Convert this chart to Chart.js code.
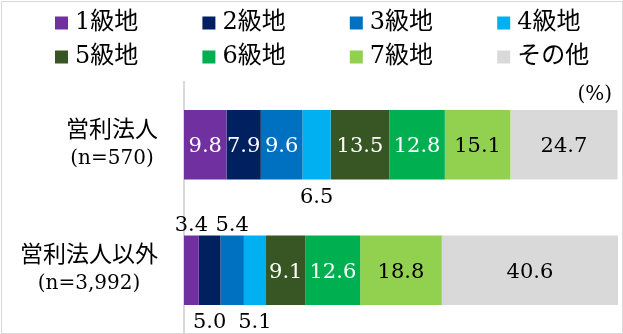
<!DOCTYPE html>
<html lang="ja">
<head>
<meta charset="utf-8">
<title>級地別の構成比</title>
<script src="https://cdn.jsdelivr.net/npm/chart.js"></script>
<style>
  html, body { margin: 0; padding: 0; background: #fff; }
  .chart-box { position: relative; width: 623px; height: 334px; }
  .chart-box .frame { position: absolute; left: 1px; top: 1px; right: 0; bottom: 0; border: 1px solid #d9d9d9; pointer-events: none; }
</style>
</head>
<body>
<div class="chart-box">
  <canvas id="gradeChart"></canvas>
  <div class="frame"></div>
</div>
<script>
// Data (%)
const categories = [['営利法人', '(n=570)'], ['営利法人以外', '(n=3,992)']];
const gradeNames = ['1級地', '2級地', '3級地', '4級地', '5級地', '6級地', '7級地', 'その他'];
const grade1 = [9.8, 3.4];
const grade2 = [7.9, 5.0];
const grade3 = [9.6, 5.4];
const grade4 = [6.5, 5.1];
const grade5 = [13.5, 9.1];
const grade6 = [12.8, 12.6];
const grade7 = [15.1, 18.8];
const others = [24.7, 40.6];

const gradeColors = ['#7030A0', '#002060', '#0070C0', '#00B0F0', '#375623', '#00B050', '#92D050', '#D9D9D9'];
// black text on the light segments
const darkText = [false, false, false, false, false, false, true, true];
// narrow segments get their label outside the bar
const labelSide = [[null, 'above'], [null, 'below'], [null, 'above'], ['below', 'below']];

const FONT = "'DejaVu Serif', 'Noto Sans CJK JP', serif";

const seriesValues = [grade1, grade2, grade3, grade4, grade5, grade6, grade7, others];

const chartText = {
    id: 'chartText',
    afterDatasetsDraw(chart) {
        const ctx = chart.ctx;
        ctx.save();
        ctx.font = '21px ' + FONT;
        ctx.textAlign = 'center';
        ctx.textBaseline = 'middle';
        chart.data.datasets.forEach((ds, i) => {
            const meta = chart.getDatasetMeta(i);
            meta.data.forEach((bar, j) => {
                const side = (labelSide[i] || [])[j];
                const cx = (bar.x + bar.base) / 2;
                let cy = bar.y + 2;
                ctx.fillStyle = darkText[i] ? '#000' : '#fff';
                if (side === 'above') {
                    cy = bar.y - bar.height / 2 - 10;
                    ctx.fillStyle = '#000';
                } else if (side === 'below') {
                    cy = bar.y + bar.height / 2 + 18;
                    ctx.fillStyle = '#000';
                }
                ctx.fillText(ds.data[j].toFixed(1), cx, cy);
            });
        });
        ctx.restore();
    },
    afterDraw(chart) {
        const ctx = chart.ctx;
        const area = chart.chartArea;
        const yScale = chart.scales.y;
        ctx.save();
        ctx.fillStyle = '#000';
        ctx.textBaseline = 'middle';

        // category labels: name line, then the (n=...) line, centred in a right-aligned block
        ctx.textAlign = 'center';
        chart.data.labels.forEach((lines, j) => {
            const py = yScale.getPixelForValue(j);
            const fonts = ['23px ' + FONT, '20px ' + FONT];
            const widest = Math.max(...lines.map((l, k) => {
                ctx.font = fonts[k];
                return ctx.measureText(l).width;
            }));
            const cx = area.left - 26 - widest / 2;
            lines.forEach((l, k) => {
                ctx.font = fonts[k];
                ctx.fillText(l, cx, py + (k - (lines.length - 1) / 2) * 28);
            });
        });

        // unit
        ctx.font = '20px ' + FONT;
        ctx.textAlign = 'right';
        ctx.fillText('(%)', area.right - 6, area.top + 13);

        // legend, 4 columns x 2 rows
        ctx.font = '24px ' + FONT;
        ctx.textAlign = 'left';
        chart.data.datasets.forEach((ds, i) => {
            const x = 55 + (i % 4) * 147.4;
            const yc = 23 + Math.floor(i / 4) * 34;
            ctx.fillStyle = ds.backgroundColor;
            ctx.fillRect(x, yc - 6.5, 13, 13);
            ctx.fillStyle = '#000';
            ctx.fillText(ds.label, x + 20, yc);
        });
        ctx.restore();
    }
};

const ctx = document.getElementById('gradeChart').getContext('2d');
new Chart(ctx, {
    type: 'bar',
    data: {
        labels: categories,
        datasets: gradeNames.map((name, i) => ({
            label: name,
            data: seriesValues[i],
            backgroundColor: gradeColors[i],
            borderWidth: 0,
            barPercentage: 0.554,
            categoryPercentage: 1
        }))
    },
    options: {
        indexAxis: 'y',
        responsive: true,
        maintainAspectRatio: false,
        animation: false,
        layout: {
            padding: { top: 82, left: 184, right: 5, bottom: 1 }
        },
        plugins: {
            legend: { display: false },
            tooltip: { enabled: false }
        },
        scales: {
            x: {
                stacked: true,
                min: 0,
                max: 100,
                display: false
            },
            y: {
                stacked: true,
                ticks: { display: false },
                grid: { display: false, drawTicks: false },
                border: { display: true, color: '#d9d9d9', width: 2 }
            }
        }
    },
    plugins: [chartText]
});
</script>
</body>
</html>
